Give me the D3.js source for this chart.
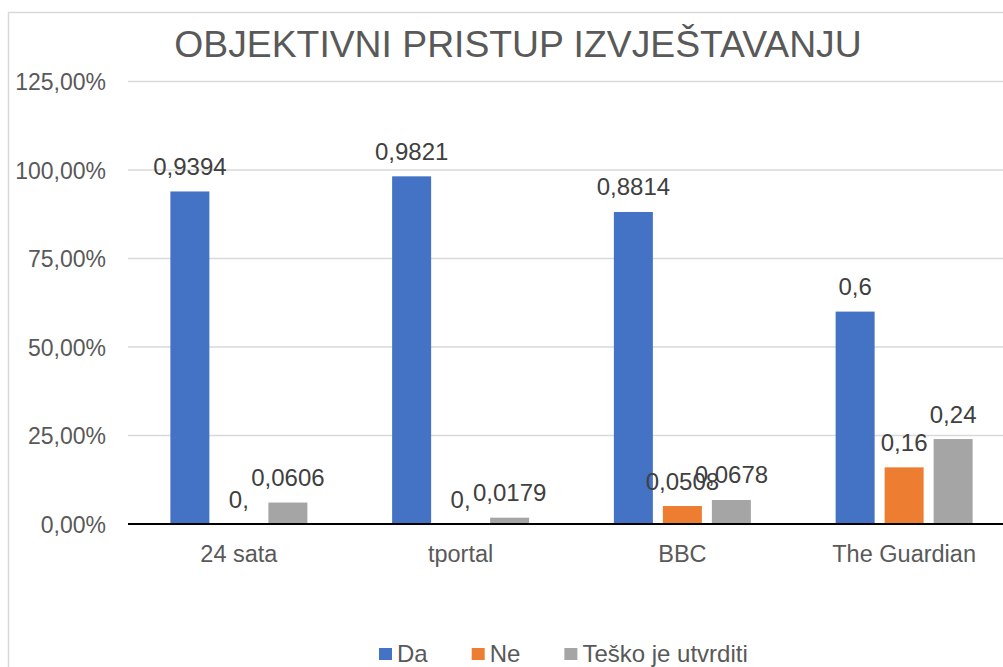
<!DOCTYPE html>
<html>
<head>
<meta charset="utf-8">
<script src="https://cdn.jsdelivr.net/npm/d3@7"></script>
<style>
  html, body { margin: 0; padding: 0; background: #fff; }
  svg { display: block; font-family: "Liberation Sans", Arial, sans-serif; }
</style>
</head>
<body>
<svg id="chart" width="1003" height="667"></svg>
<script>
const title = "OBJEKTIVNI PRISTUP IZVJEŠTAVANJU";
const categories = ["24 sata", "tportal", "BBC", "The Guardian"];
const seriesNames = ["Da", "Ne", "Teško je utvrditi"];
const da = [0.9394, 0.9821, 0.8814, 0.6];
const ne = [0, 0, 0.0508, 0.16];
const tesko = [0.0606, 0.0179, 0.0678, 0.24];
const yTicks = [0, 0.25, 0.5, 0.75, 1.0, 1.25];
const colors = ["#4472C4", "#ED7D31", "#A5A5A5"];

const seriesValues = [da, ne, tesko];
const svg = d3.select("#chart");

// chart border
svg.append("rect").attr("x", 8.5).attr("y", 12.5).attr("width", 1100).attr("height", 1000)
  .attr("fill", "none").attr("stroke", "#d9d9d9").attr("stroke-width", 1.5);

const x0 = d3.scaleBand().domain(categories).range([128, 1015]).paddingInner(0).paddingOuter(0);
const x1 = d3.scaleBand().domain(seriesNames).range([-68.5, 68.5]).paddingInner(10 / 49).paddingOuter(0);
const y = d3.scaleLinear().domain([0, 1.25]).range([524, 81.5]);

// gridlines
svg.append("g").selectAll("line").data(yTicks.filter(t => t > 0)).join("line")
  .attr("x1", 128).attr("x2", 1003)
  .attr("y1", d => y(d)).attr("y2", d => y(d))
  .attr("stroke", "#d9d9d9").attr("stroke-width", 1.5);

// y labels
const pct = v => d3.format(".2f")(v * 100).replace(".", ",") + "%";
svg.append("g").selectAll("text").data(yTicks).join("text")
  .attr("x", 106).attr("y", d => y(d) + 8.5)
  .attr("text-anchor", "end").attr("font-size", 23).attr("fill", "#595959")
  .text(pct);

// bars
const flat = [];
categories.forEach((c, ci) => seriesNames.forEach((s, si) => flat.push({c, s, si, v: seriesValues[si][ci]})));
const bx = d => x0(d.c) + x0.bandwidth() / 2 + x1(d.s);
svg.append("g").selectAll("rect").data(flat).join("rect")
  .attr("x", bx).attr("y", d => y(d.v))
  .attr("width", x1.bandwidth()).attr("height", d => y(0) - y(d.v))
  .attr("fill", d => colors[d.si]);

// baseline
svg.append("line").attr("x1", 128).attr("x2", 1003).attr("y1", y(0)).attr("y2", y(0))
  .attr("stroke", "#000").attr("stroke-width", 2);

// data labels
const lbl = v => v === 0 ? "0," : String(v).replace(".", ",");
svg.append("g").selectAll("text").data(flat).join("text")
  .attr("x", d => bx(d) + x1.bandwidth() / 2).attr("y", d => y(d.v) - 16.5)
  .attr("text-anchor", "middle").attr("font-size", 24).attr("fill", "#404040")
  .text(d => lbl(d.v));

// category labels
svg.append("g").selectAll("text").data(categories).join("text")
  .attr("x", d => x0(d) + x0.bandwidth() / 2).attr("y", 562)
  .attr("text-anchor", "middle").attr("font-size", 23.5).attr("fill", "#595959")
  .text(d => d);

// title
svg.append("text").attr("x", 518).attr("y", 57).attr("text-anchor", "middle")
  .attr("font-size", 37.3).attr("fill", "#595959").text(title);

// legend
const lg = svg.append("g");
let lx = 379;
seriesNames.forEach((s, i) => {
  lg.append("rect").attr("x", lx).attr("y", 648).attr("width", 13).attr("height", 12).attr("fill", colors[i]);
  const t = lg.append("text").attr("x", lx + 18).attr("y", 662).attr("font-size", 24).attr("fill", "#595959").text(s);
  lx += 18 + t.node().getComputedTextLength() + 44;
});
</script>
</body>
</html>
